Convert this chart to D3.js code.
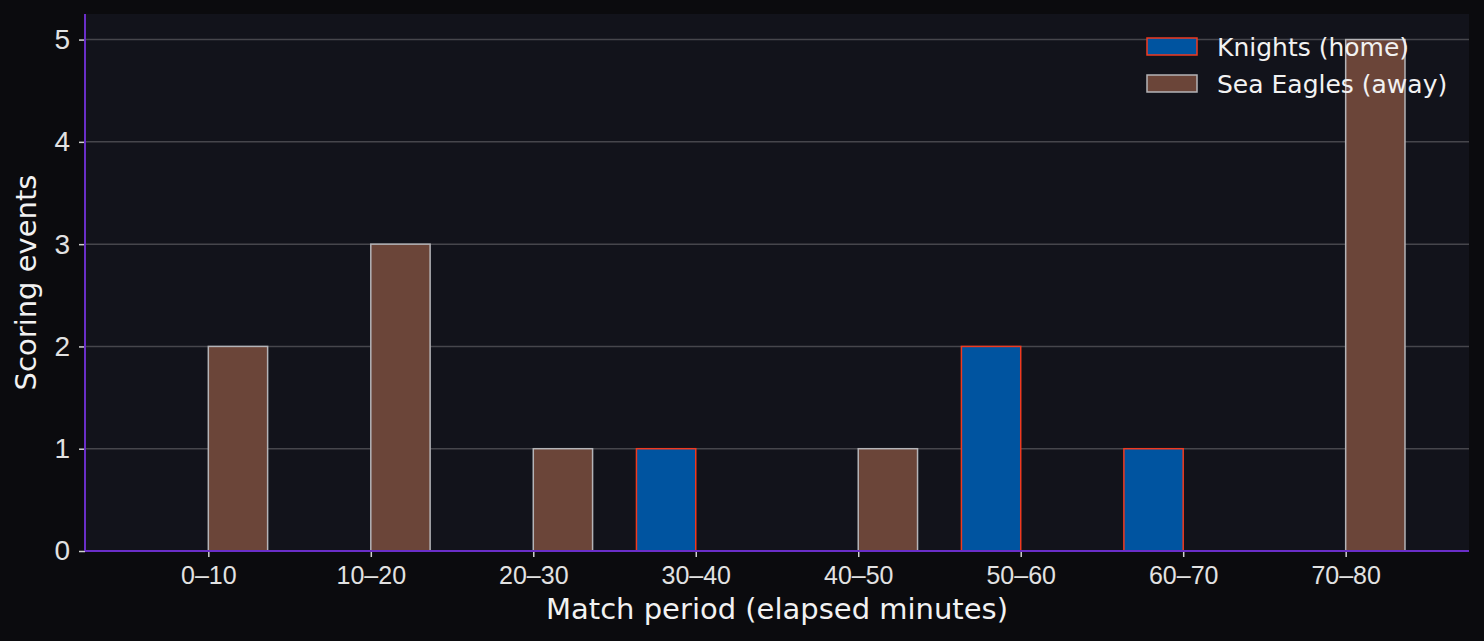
<!DOCTYPE html>
<html>
<head>
<meta charset="utf-8">
<script src="https://cdn.jsdelivr.net/npm/d3@7"></script>
<style>
  html, body { margin: 0; padding: 0; background: #0b0b0e; }
  svg { display: block; font-family: "DejaVu Sans", sans-serif; }
</style>
</head>
<body>
<svg id="chart" width="1484" height="641"></svg>
<script>
// data
const periods = ["0–10", "10–20", "20–30", "30–40", "40–50", "50–60", "60–70", "70–80"];
const knights = [0, 0, 0, 1, 0, 2, 1, 0];
const seaEagles = [2, 3, 1, 0, 1, 0, 0, 5];
const yTicks = [0, 1, 2, 3, 4, 5];

const series = [
  { name: "Knights (home)", values: knights, fill: "#0054a0", stroke: "#f03a20", side: -1 },
  { name: "Sea Eagles (away)", values: seaEagles, fill: "#6b4539", stroke: "#b4b4b8", side: 1 }
];

const WIDTH = 1484, HEIGHT = 641;
const MARGINS = { top: 14, right: 15, bottom: 90, left: 85 };
const barW = 0.365;

const svg = d3.select("#chart");

const x = d3.scaleLinear()
  .domain([-0.759, periods.length - 1 + 0.759])
  .range([MARGINS.left, WIDTH - MARGINS.right]);

const y = d3.scaleLinear()
  .domain([0, 5.25])
  .range([HEIGHT - MARGINS.bottom, MARGINS.top]);

// plot background
svg.append("rect")
  .attr("x", MARGINS.left)
  .attr("y", MARGINS.top)
  .attr("width", WIDTH - MARGINS.right - MARGINS.left)
  .attr("height", HEIGHT - MARGINS.bottom - MARGINS.top)
  .attr("fill", "#12131b");

// grid
svg.append("g")
  .selectAll("line")
  .data(yTicks.filter(d => d > 0))
  .join("line")
  .attr("x1", MARGINS.left)
  .attr("x2", WIDTH - MARGINS.right)
  .attr("y1", d => y(d))
  .attr("y2", d => y(d))
  .attr("stroke", "#46464c")
  .attr("stroke-width", 1.5);

// bars
series.forEach(s => {
  svg.append("g")
    .selectAll("rect")
    .data(s.values.map((v, i) => ({ v: v, i: i })))
    .join("rect")
    .attr("x", d => s.side < 0 ? x(d.i - barW) : x(d.i))
    .attr("width", x(barW) - x(0))
    .attr("y", d => y(d.v))
    .attr("height", d => y(0) - y(d.v))
    .attr("fill", s.fill)
    .attr("stroke", s.stroke)
    .attr("stroke-width", 1.5);
});

// x axis
const xAxis = d3.axisBottom(x)
  .tickValues(d3.range(periods.length))
  .tickFormat(i => periods[i])
  .tickSize(6)
  .tickPadding(9);

const gx = svg.append("g")
  .attr("transform", "translate(0," + y(0) + ")")
  .call(xAxis);
gx.select(".domain").remove();
gx.selectAll(".tick line").attr("stroke", "#d0d0d0").attr("stroke-width", 1.5);
gx.selectAll(".tick text").attr("fill", "#e2e2e2").style("font-size", "25px");

// y axis
const yAxis = d3.axisLeft(y)
  .tickValues(yTicks)
  .tickFormat(d3.format("d"))
  .tickSize(6)
  .tickPadding(9);

const gy = svg.append("g")
  .attr("transform", "translate(" + MARGINS.left + ",0)")
  .call(yAxis);
gy.select(".domain").remove();
gy.selectAll(".tick line").attr("stroke", "#d0d0d0").attr("stroke-width", 1.5);
gy.selectAll(".tick text").attr("fill", "#e2e2e2").style("font-size", "28px");

// spines
svg.append("line")
  .attr("x1", MARGINS.left).attr("x2", MARGINS.left)
  .attr("y1", MARGINS.top).attr("y2", y(0))
  .attr("stroke", "#6a2ec8").attr("stroke-width", 2);
svg.append("line")
  .attr("x1", MARGINS.left).attr("x2", WIDTH - MARGINS.right)
  .attr("y1", y(0)).attr("y2", y(0))
  .attr("stroke", "#6a2ec8").attr("stroke-width", 2);

// axis labels
svg.append("text")
  .attr("x", (MARGINS.left + WIDTH - MARGINS.right) / 2)
  .attr("y", 619)
  .attr("text-anchor", "middle")
  .attr("fill", "#f2f2f2")
  .style("font-size", "29px")
  .text("Match period (elapsed minutes)");

svg.append("text")
  .attr("transform", "translate(36," + ((MARGINS.top + y(0)) / 2) + ") rotate(-90)")
  .attr("text-anchor", "middle")
  .attr("fill", "#f2f2f2")
  .style("font-size", "29px")
  .text("Scoring events");

// legend
const legend = svg.append("g").attr("transform", "translate(1147,38)");
series.forEach((s, k) => {
  const row = legend.append("g").attr("transform", "translate(0," + (k * 37) + ")");
  row.append("rect")
    .attr("width", 50).attr("height", 17)
    .attr("fill", s.fill)
    .attr("stroke", s.stroke)
    .attr("stroke-width", 1.5);
  row.append("text")
    .attr("x", 70).attr("y", 9)
    .attr("dy", "0.35em")
    .attr("fill", "#f2f2f2")
    .style("font-size", "25px")
    .text(s.name);
});
</script>
</body>
</html>
